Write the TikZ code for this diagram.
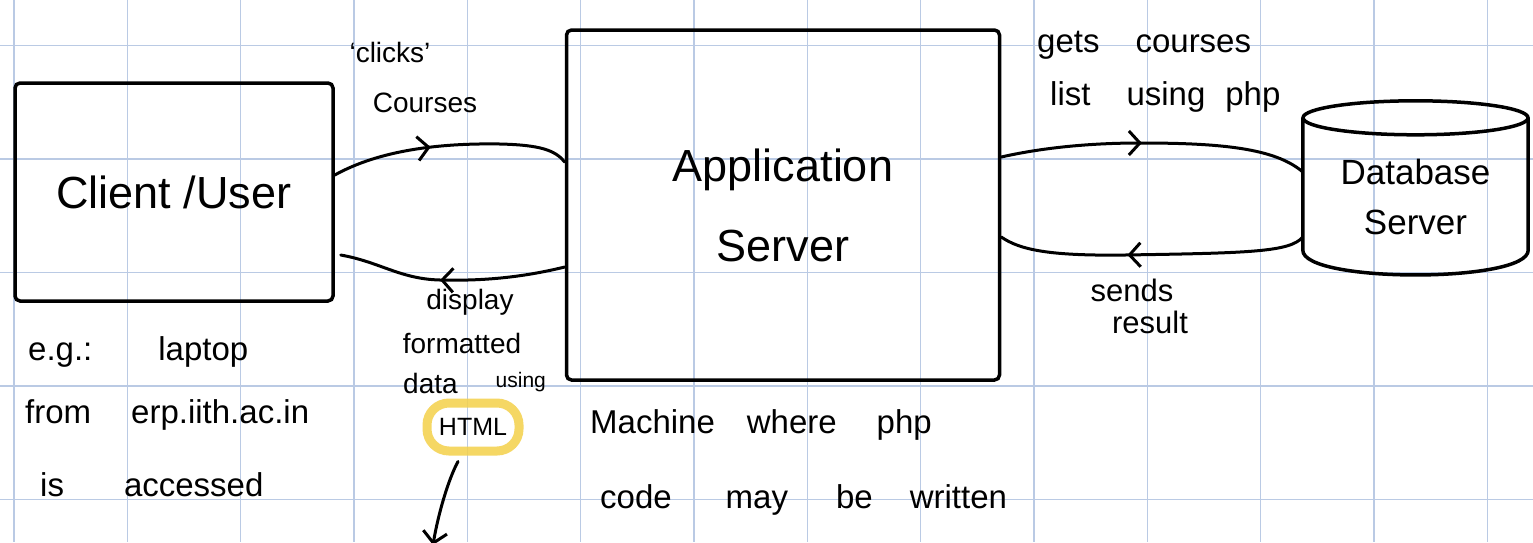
\documentclass[tikz,border=0pt]{standalone}
\usepackage{fontspec}
\setmainfont{Liberation Sans}
\usetikzlibrary{arrows.meta,decorations.markings,calc}
\definecolor{gridc}{HTML}{BACAE4}
\definecolor{hl}{HTML}{F4D04A}
\tikzset{
  box/.style={draw, line width=3.5pt, rounded corners=5pt, align=center, inner sep=0pt},
  lbl/.style={inner sep=0pt, align=center},
  fbig/.style={font=\fontsize{45pt}{54pt}\selectfont},
  fdb/.style={font=\fontsize{35pt}{42pt}\selectfont},
  fmid/.style={font=\fontsize{33pt}{39pt}\selectfont},
  fsm/.style={font=\fontsize{28pt}{33pt}\selectfont},
  flow/.style={line width=3pt, line cap=round, postaction={decorate},
    decoration={markings, mark=at position #1 with {\arrow{Straight Barb[length=11pt,width=24pt]}}}},
  wire/.style={line width=3pt, line cap=round},
}
\begin{document}
\begin{tikzpicture}[x=1pt,y=-1pt]
\useasboundingbox (0,0) rectangle (1533,542);
\clip (0,0) rectangle (1533,542);
\fill[white] (0,0) rectangle (1533,542);
% grid
\foreach \i in {0,...,13} \draw[gridc, line width=1.2pt] ({14+113.33*\i},0) -- ({14+113.33*\i},542);
\foreach \j in {0,...,4} \draw[gridc, line width=1.2pt] (0,{45.5+113.5*\j}) -- (1533,{45.5+113.5*\j});

% boxes
\node[box, fbig, minimum width=318pt, minimum height=218pt] (client) at (174,192) {Client /User};
\node[box, fbig, minimum width=433pt, minimum height=350pt] (app) at (783,205) {Application\\[26pt]Server};
\node[lbl, fdb, minimum width=225pt, minimum height=157pt] (db) at (1415.5,196.5) {Database\\[8pt]Server};
% cylinder outline
\draw[line width=3.5pt] (db.north) ellipse [x radius=112.5pt, y radius=17pt];
\draw[line width=3.5pt, line join=round] (db.north west) -- ([yshift=25pt]db.south west)
  .. controls ([yshift=-8pt]db.south west) and ([yshift=-8pt]db.south east) .. ([yshift=25pt]db.south east)
  -- (db.north east);

% connectors
\draw[flow=0.42] ([yshift=17pt]client.east) .. controls (380,150) and (440,143) .. (500,144)
  .. controls (540,145) and (555,150) .. ([yshift=43pt]app.west);
\draw[flow=0.55] ([yshift=-62pt]app.west) .. controls (520,278) and (480,281) .. (440,280)
  .. controls (400,279) and (380,262) .. ([xshift=6pt,yshift=-63pt]client.east);
\draw[flow=0.46] ([yshift=48pt]app.east) .. controls (1050,146) and (1100,143) .. (1140,143)
  .. controls (1220,143) and (1275,148) .. ([yshift=24.5pt]db.west);
\draw[flow=0.58] ([yshift=-40.5pt]db.west) .. controls (1290,252) and (1250,253) .. (1125,255)
  .. controls (1050,256) and (1020,250) .. ([yshift=-32pt]app.east);

% labels of connectors
\node[lbl, font=\fontsize{28pt}{33pt}\selectfont] (clicks) at (390,52) {`clicks'};
\node[lbl, fsm] (courses) at (425,103) {Courses};
\node[lbl, fmid, anchor=west] (gets) at (1037,45) {gets\hspace{36pt}courses};
\node[lbl, fmid, anchor=west] (list) at (1050,97) {list\hspace{36pt}using\hspace{20pt}php};
\node[lbl, font=\fontsize{31pt}{37pt}\selectfont] (sends) at (1132,290) {sends};
\node[lbl, font=\fontsize{31pt}{37pt}\selectfont] (result) at (1150,322) {result};
\node[lbl, font=\fontsize{28pt}{33pt}\selectfont] (display) at (470,302) {display};
\node[lbl, font=\fontsize{28pt}{33pt}\selectfont] (formatted) at (462,343) {formatted};
\node[lbl, font=\fontsize{28pt}{33pt}\selectfont, anchor=west] (datausing) at (403,383)
  {data\hspace{38pt}\raisebox{6pt}{\fontsize{21pt}{25pt}\selectfont using}};
\node[draw=hl, draw opacity=0.85, line width=9pt, rounded corners=22pt, minimum width=92pt,
  minimum height=48pt, inner sep=0pt, font=\fontsize{25pt}{30pt}\selectfont] (html) at (473,427) {HTML};
\coordinate (htmlend) at (433,545);
\draw[wire, -{Straight Barb[length=11pt,width=24pt]}] ([xshift=-15pt,yshift=-6pt]html.south)
  .. controls (448,480) and (438,515) .. (htmlend);

% notes
\node[lbl, fmid, anchor=west] (eg) at (28,352) {e.g.:\hspace{66pt}laptop};
\node[lbl, fmid, anchor=west] (from) at (25,415) {from\hspace{40pt}erp.iith.ac.in};
\node[lbl, fmid, anchor=west] (acc) at (40,485) {is\hspace{60pt}accessed};
\node[lbl, fmid, anchor=west] (mach) at (590,425) {Machine\hspace{32pt}where\hspace{40pt}php};
\node[lbl, fmid, anchor=west] (code) at (600,500) {code\hspace{54pt}may\hspace{48pt}be\hspace{37pt}written};
\end{tikzpicture}
\end{document}
